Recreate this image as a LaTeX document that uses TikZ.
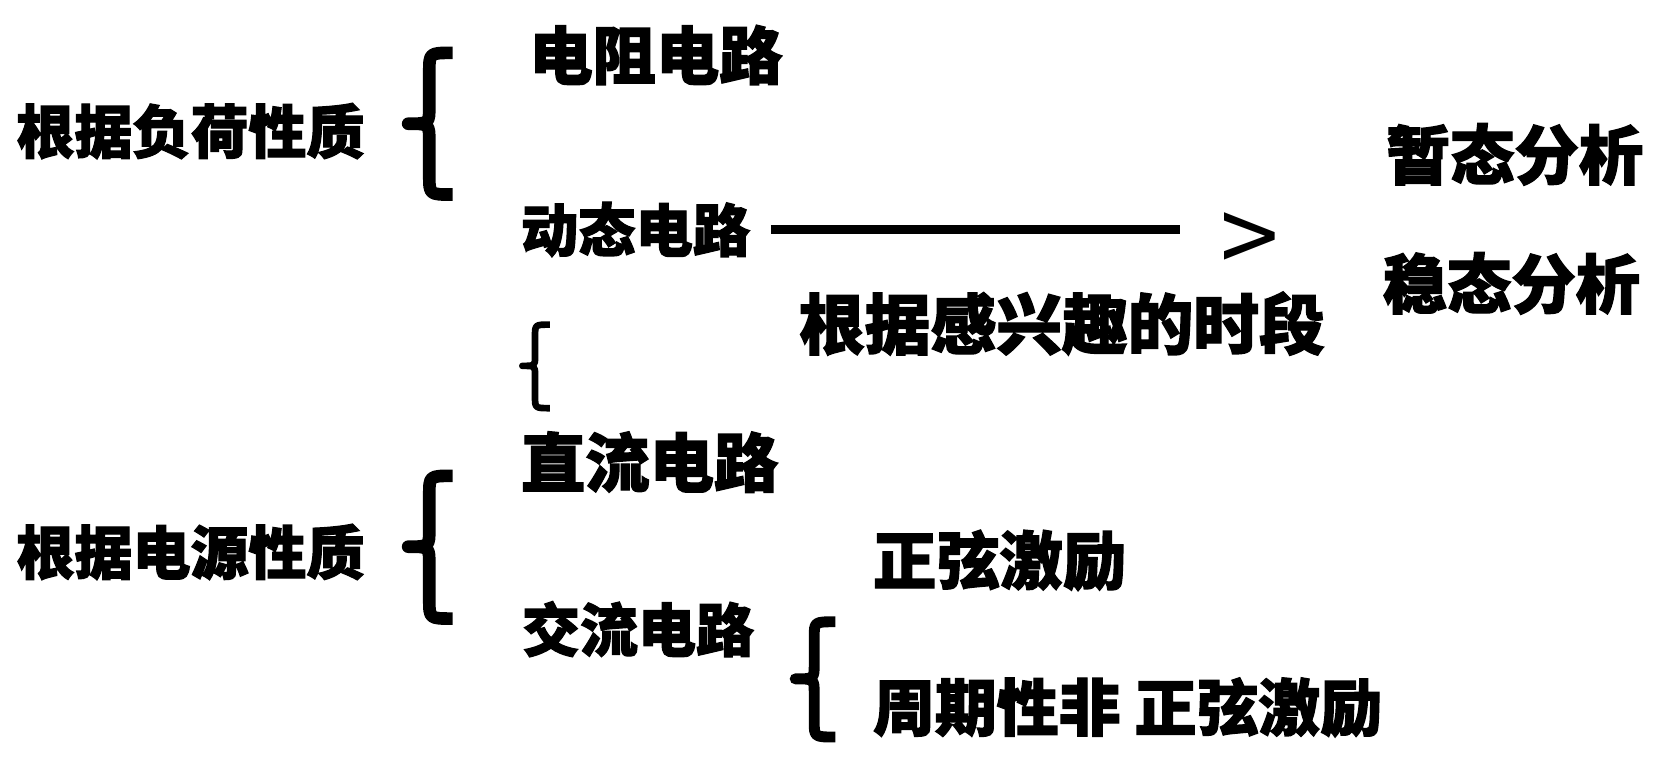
\documentclass[tikz,border=0pt]{standalone}
\usepackage{fontspec}
\newfontfamily\cjk{Noto Sans CJK SC}[BoldFeatures={FakeBold=2}]
\usepackage{tikz}

\tikzset{
  lbl/.style={anchor=west, inner sep=0pt, font=\cjk\bfseries\fontsize{#1}{#1}\selectfont},
  lbl/.default=18pt,
  bracestroke/.style={line width=#1, line cap=butt, line join=round},
  bracestroke/.default=3.6pt
}

\begin{document}
\begin{tikzpicture}[x=0.010574cm, y=-0.010574cm]
\useasboundingbox (0,0) rectangle (1568,719.7);

% Load type
\node[lbl=16.5pt] (load) at (15,124) {根据负荷性质};
\draw[bracestroke] (428,50) .. controls (406,50) .. (406,68) -- (406,100)
  .. controls (406,117) .. (386,117) .. controls (406,117) .. (406,134)
  -- (406,166) .. controls (406,184) .. (428,184);
\node[lbl=18pt] (res) at (500,52) {电阻电路};
\node[lbl=16.3pt] (dyn) at (492,217) {动态电路};

% Period of interest
\node[anchor=west, inner sep=0pt, font=\cjk\fontsize{30}{30}\selectfont] (gt) at (1154,231) {>};
\draw[line width=2.5pt, shorten <=0.2cm, shorten >=0.4cm] (dyn.east) -- (dyn.east -| gt.west);
\node[lbl=18.7pt] (per) at (755,306) {根据感兴趣的时段};
\node[lbl=18.3pt] (tran) at (1310,146) {暂态分析};
\node[lbl=18.3pt] (stead) at (1307,268) {稳态分析};
\draw[bracestroke=1.9pt] (520,307) .. controls (506,307) .. (506,318) -- (506,337)
  .. controls (506,346) .. (494,346) .. controls (506,346) .. (506,355)
  -- (506,375) .. controls (506,386) .. (520,386);

% Source type
\node[lbl=16.5pt] (src) at (15,522) {根据电源性质};
\draw[bracestroke] (428,450) .. controls (406,450) .. (406,468) -- (406,500)
  .. controls (406,517) .. (386,517) .. controls (406,517) .. (406,534)
  -- (406,567) .. controls (406,585) .. (428,585);
\node[lbl=18.3pt] (dc) at (492,437) {直流电路};
\node[lbl=16.5pt] (ac) at (493,595) {交流电路};

% AC excitation
\node[lbl=18pt] (sin) at (825,530) {正弦激励};
\node[lbl=17.6pt] (nsin) at (825,669) {周期性非 正弦激励};
\draw[bracestroke=3.1pt] (790,588) .. controls (770,588) .. (770,603) -- (770,628)
  .. controls (770,642) .. (752,642) .. controls (770,642) .. (770,656)
  -- (770,682) .. controls (770,697) .. (790,697);
\end{tikzpicture}
\end{document}
